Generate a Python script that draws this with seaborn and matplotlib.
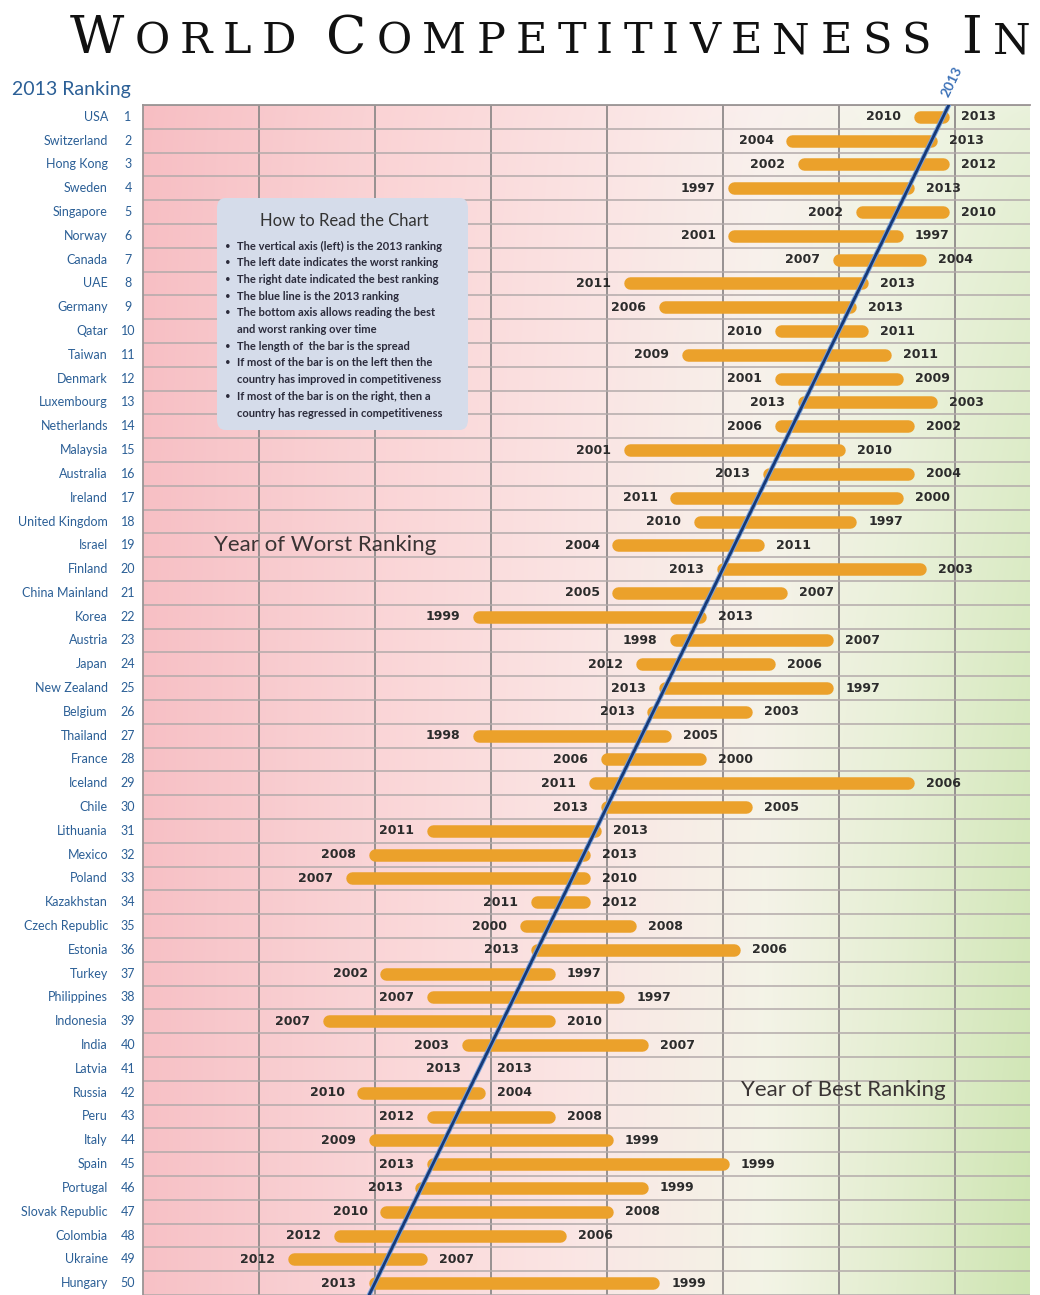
import numpy as np
import pandas as pd
import seaborn as sns
import matplotlib.pyplot as plt
from matplotlib.patches import FancyBboxPatch

# 2013 ranking (vertical axis) and the worst / best ranking over time
countries = ['USA', 'Switzerland', 'Hong Kong', 'Sweden', 'Singapore', 'Norway', 'Canada', 'UAE',
             'Germany', 'Qatar', 'Taiwan', 'Denmark', 'Luxembourg', 'Netherlands', 'Malaysia',
             'Australia', 'Ireland', 'United Kingdom', 'Israel', 'Finland', 'China Mainland',
             'Korea', 'Austria', 'Japan', 'New Zealand', 'Belgium', 'Thailand', 'France', 'Iceland',
             'Chile', 'Lithuania', 'Mexico', 'Poland', 'Kazakhstan', 'Czech Republic', 'Estonia',
             'Turkey', 'Philippines', 'Indonesia', 'India', 'Latvia', 'Russia', 'Peru', 'Italy',
             'Spain', 'Portugal', 'Slovak Republic', 'Colombia', 'Ukraine', 'Hungary']
rank_2013 = [1, 2, 3, 4, 5, 6, 7, 8, 9, 10, 11, 12, 13, 14, 15, 16, 17, 18, 19, 20, 21, 22, 23, 24, 25,
             26, 27, 28, 29, 30, 31, 32, 33, 34, 35, 36, 37, 38, 39, 40, 41, 42, 43, 44, 45, 46, 47,
             48, 49, 50]
worst_rank = [3, 14, 13, 19, 8, 19, 10, 28, 25, 15, 23, 15, 13, 15, 28, 16, 24, 22, 29, 20,
              29, 41, 24, 27, 25, 26, 41, 30, 31, 30, 45, 50, 52, 36, 37, 36, 49, 45, 54, 42,
              41, 51, 45, 50, 45, 46, 49, 53, 57, 50]
best_rank = [1, 2, 1, 4, 1, 5, 3, 8, 9, 8, 6, 5, 2, 4, 10, 4, 5, 9, 17, 3,
             15, 22, 11, 16, 11, 18, 25, 22, 4, 18, 31, 32, 32, 32, 28, 19, 35, 29, 35, 27,
             41, 41, 35, 30, 20, 27, 30, 34, 46, 26]
worst_year = [2010, 2004, 2002, 1997, 2002, 2001, 2007, 2011, 2006, 2010, 2009, 2001, 2013, 2006,
              2001, 2013, 2011, 2010, 2004, 2013, 2005, 1999, 1998, 2012, 2013, 2013, 1998, 2006,
              2011, 2013, 2011, 2008, 2007, 2011, 2000, 2013, 2002, 2007, 2007, 2003, 2013, 2010,
              2012, 2009, 2013, 2013, 2010, 2012, 2012, 2013]
best_year = [2013, 2013, 2012, 2013, 2010, 1997, 2004, 2013, 2013, 2011, 2011, 2009, 2003, 2002,
             2010, 2004, 2000, 1997, 2011, 2003, 2007, 2013, 2007, 2006, 1997, 2003, 2005, 2000,
             2006, 2005, 2013, 2013, 2010, 2012, 2008, 2006, 1997, 1997, 2010, 2007, 2013, 2004,
             2008, 1999, 1999, 1999, 2008, 2006, 2007, 1999]

how_to_read = [
    (True, 'The vertical axis (left) is the 2013 ranking'),
    (True, 'The left date indicates the worst ranking'),
    (True, 'The right date indicated the best ranking'),
    (True, 'The blue line is the 2013 ranking'),
    (True, 'The bottom axis allows reading the best'),
    (False, 'and worst ranking over time'),
    (True, 'The length of  the bar is the spread'),
    (True, 'If most of the bar is on the left then the'),
    (False, 'country has improved in competitiveness'),
    (True, 'If most of the bar is on the right, then a'),
    (False, 'country has regressed in competitiveness'),
]

bar_color = '#eba12b'
blue_text = '#2b5f96'

sns.set_style('white')
plt.rcParams['font.family'] = ['Lato', 'DejaVu Sans']

W, H = 1040, 1295
fig = plt.figure(figsize=(W / 100, H / 100), dpi=100)


def fx(px):
    return px / W


def fy(py):
    return 1 - py / H


ax = fig.add_axes([fx(143), 0, fx(1030) - fx(143), fy(105)])

# background gradient: pink on the left to green on the right
xs = np.linspace(0, 1, 400)
stops = [0.0, 0.25, 0.5, 0.7, 0.85, 1.0]
top_cols = np.array([[247, 190, 195], [250, 210, 212], [251, 226, 226], [250, 240, 238],
                     [244, 246, 234], [234, 242, 220]]) / 255
bot_cols = np.array([[247, 193, 198], [250, 213, 215], [250, 231, 229], [243, 244, 230],
                     [226, 237, 206], [206, 229, 178]]) / 255
top_row = np.stack([np.interp(xs, stops, top_cols[:, c]) for c in range(3)], axis=-1)
bot_row = np.stack([np.interp(xs, stops, bot_cols[:, c]) for c in range(3)], axis=-1)
tv = np.linspace(0, 1, 200)[:, None, None] ** 0.6
grad = top_row[None, :, :] * (1 - tv) + bot_row[None, :, :] * tv
ax.imshow(grad, extent=(70, -6.5, 50.5, 0.5), aspect='auto', zorder=0, interpolation='bilinear')

# bars from worst to best ranking
rows = []
for c, r, w, b in zip(countries, rank_2013, worst_rank, best_rank):
    if w != b:
        rows.append({'country': c, 'pos': w, 'row': r})
        rows.append({'country': c, 'pos': b, 'row': r})
bars = pd.DataFrame(rows)
sns.lineplot(data=bars, x='pos', y='row', units='country', estimator=None, sort=False,
             color=bar_color, linewidth=9.0, solid_capstyle='round', legend=False, ax=ax, zorder=3)

# 2013 ranking line
ax.axline((rank_2013[0], rank_2013[0]), (rank_2013[-1], rank_2013[-1]), color='#7aa3dc', lw=3.4, zorder=4)
ax.axline((rank_2013[0], rank_2013[0]), (rank_2013[-1], rank_2013[-1]), color='#173a78', lw=2.0, zorder=5)

ax.set_xlim(70, -6.5)
ax.set_ylim(50.5, 0.5)
ax.set_xticks([0, 10, 20, 30, 40, 50, 60])
ax.set_yticks(np.arange(0.5, 51, 1))
ax.tick_params(length=0, labelbottom=False, labelleft=False)
ax.xaxis.grid(True, color='#8f8a8a', lw=1.3)
ax.yaxis.grid(True, color='#b3aaaa', lw=1.1)
for g in ax.get_xgridlines() + ax.get_ygridlines():
    g.set_zorder(1)
ax.set_xlabel('')
ax.set_ylabel('')
for s in ['right', 'bottom']:
    ax.spines[s].set_visible(False)
for s in ['left', 'top']:
    ax.spines[s].set_color('#9a9494')
    ax.spines[s].set_linewidth(1.3)

# year labels
for r, w, b, wy, by in zip(rank_2013, worst_rank, best_rank, worst_year, best_year):
    ax.annotate(str(wy), (w, r), xytext=(-13.5, 0), textcoords='offset points', ha='right',
                va='center', fontsize=9, fontweight='bold', family='DejaVu Sans', color='#2b2b2b', zorder=6)
    ax.annotate(str(by), (b, r), xytext=(13, 0), textcoords='offset points', ha='left',
                va='center', fontsize=9, fontweight='bold', family='DejaVu Sans', color='#2b2b2b', zorder=6)

# country names and ranks
ytr = ax.get_yaxis_transform()
for c, r in zip(countries, rank_2013):
    ax.text(-0.0395, r, c, transform=ytr, ha='right', va='center', fontsize=9, color=blue_text,
            clip_on=False)
    ax.text(-0.0169, r, str(r), transform=ytr, ha='center', va='center', fontsize=9, color=blue_text,
            clip_on=False)

fig.text(fx(12), fy(89), '2013 Ranking', ha='left', va='center', fontsize=14, color=blue_text)

# "2013" along the blue line
fig.text(fx(952), fy(82), '2013', ha='center', va='center', rotation=64, rotation_mode='anchor',
         fontsize=10, fontweight='bold', color='#3d72b8')

# area captions
ax.text(fx(325), fy(545), 'Year of Worst Ranking', transform=fig.transFigure, ha='center', va='center',
        fontsize=16, color='#3a3434', zorder=7)
ax.text(fx(843), fy(1090), 'Year of Best Ranking', transform=fig.transFigure, ha='center', va='center',
        fontsize=16, color='#3a3434', zorder=7)

# how to read box
box = FancyBboxPatch((fx(217), fy(430)), fx(468) - fx(217), fy(198) - fy(430),
                     boxstyle='round,pad=0,rounding_size=0.008', transform=fig.transFigure,
                     facecolor='#d5dcea', edgecolor='none', zorder=8)
fig.patches.append(box)
fig.text(fx(344), fy(221), 'How to Read the Chart', ha='center', va='center', fontsize=12,
         color='#333333', zorder=9)
for i, (bullet, line) in enumerate(how_to_read):
    yy = fy(246 + i * 16.7)
    if bullet:
        fig.text(fx(228), yy, '•', ha='center', va='center', fontsize=7, color='#2b2b3b', zorder=9)
    fig.text(fx(237), yy, line, ha='left', va='center', fontsize=8, fontweight='bold',
             color='#2b2b3b', zorder=9)

# title in spaced small caps
fig.canvas.draw()
renderer = fig.canvas.get_renderer()
title_words = ['World', 'Competitiveness', 'in']
chars = []
for wi, word in enumerate(title_words):
    for ci, ch in enumerate(word.upper()):
        size = 38 if ci == 0 else 31
        t = fig.text(0, fy(53), ch, fontsize=size, family='DejaVu Serif', color='#111111',
                     ha='left', va='baseline')
        chars.append((wi, t))
widths = [t.get_window_extent(renderer).width for _, t in chars]
word_gap = 20
track = (960 - sum(widths) - word_gap * (len(title_words) - 1)) / (len(chars) - 1)
x = 70
prev_w = 0
for (wi, t), wd in zip(chars, widths):
    if wi != prev_w:
        x += word_gap
        prev_w = wi
    t.set_x(fx(x))
    x += wd + track

fig.savefig('out.png', dpi=100)
